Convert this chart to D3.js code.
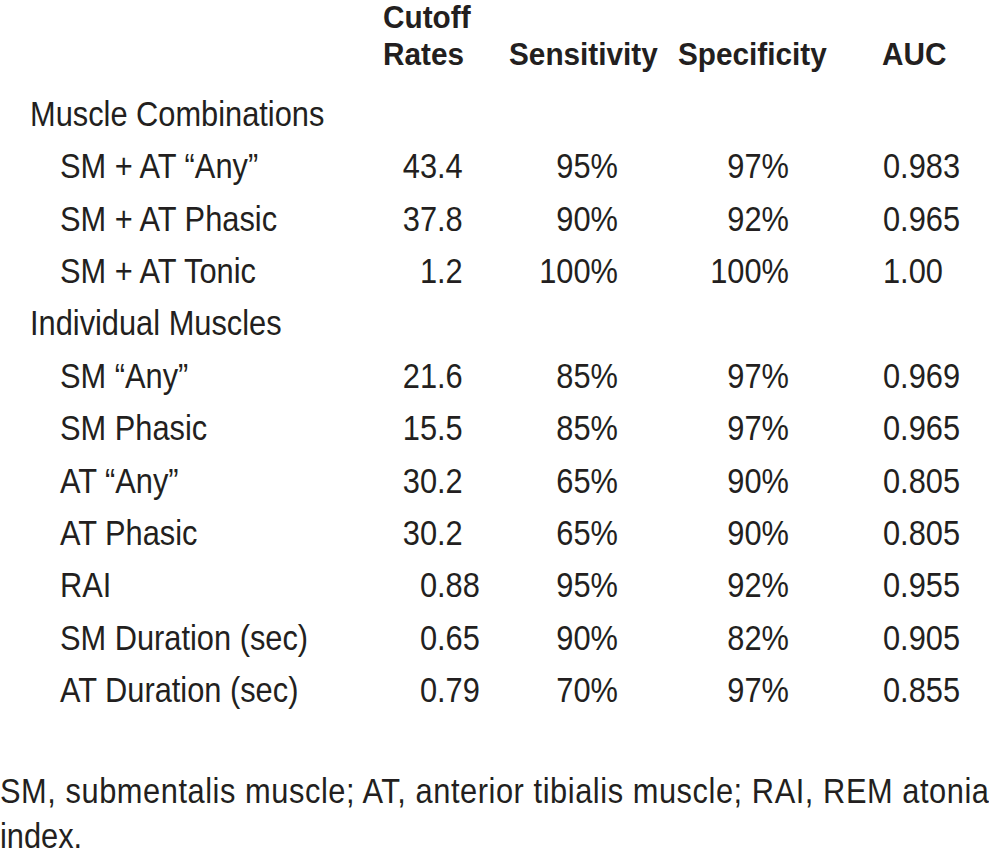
<!DOCTYPE html>
<html>
<head>
<meta charset="utf-8">
<script src="https://cdn.jsdelivr.net/npm/d3@7"></script>
<style>
  html, body { margin: 0; padding: 0; background: #fff; }
  svg { display: block; }
  text { font-family: "Liberation Sans", Arial, Helvetica, sans-serif; fill: #231f20; }
</style>
</head>
<body>
<svg id="chart" width="989" height="855"></svg>
<script>
// ---- data ----
const headerLine1 = ["Cutoff", "", "", ""];
const headerLine2 = ["Rates", "Sensitivity", "Specificity", "AUC"];
const groups = ["Muscle Combinations", "Individual Muscles"];
const groupRows = [
  ["SM + AT \u201CAny\u201D", "SM + AT Phasic", "SM + AT Tonic"],
  ["SM \u201CAny\u201D", "SM Phasic", "AT \u201CAny\u201D", "AT Phasic", "RAI", "SM Duration (sec)", "AT Duration (sec)"]
];
const cutoffs = [["43.4", "37.8", "1.2"], ["21.6", "15.5", "30.2", "30.2", "0.88", "0.65", "0.79"]];
const sensitivity = [["95%", "90%", "100%"], ["85%", "85%", "65%", "65%", "95%", "90%", "70%"]];
const specificity = [["97%", "92%", "100%"], ["97%", "97%", "90%", "90%", "92%", "82%", "97%"]];
const auc = [["0.983", "0.965", "1.00"], ["0.969", "0.965", "0.805", "0.805", "0.955", "0.905", "0.855"]];
const footnote1 = "SM, submentalis muscle; AT, anterior tibialis muscle; RAI, REM atonia";
const footnote2 = "index.";

// ---- build flat rows ----
const rows = [];
groups.forEach((g, gi) => {
  rows.push({type: "group", label: g});
  groupRows[gi].forEach((lab, i) => {
    rows.push({type: "item", label: lab, cutoff: cutoffs[gi][i],
      sens: sensitivity[gi][i], spec: specificity[gi][i], auc: auc[gi][i]});
  });
});

const svg = d3.select("#chart");
const FS = 35, SX = 0.88;      // regular text size / horizontal condensing
const FSB = 32, SXB = 0.93;    // bold header

const y = d3.scalePoint().domain(d3.range(rows.length)).range([126, 702]);

function put(sel, x, yy, str, anchor, opts = {}) {
  return sel.append("text")
    .attr("transform", `translate(${x},${yy}) scale(${opts.sx || SX},1)`)
    .attr("text-anchor", anchor)
    .style("font-size", (opts.fs || FS) + "px")
    .style("font-weight", opts.bold ? "bold" : "normal")
    .text(str);
}

// ---- header ----
const hdr = svg.append("g");
const hdrX = [383, 509, 678, 882];
headerLine1.forEach((t, i) => { if (t) put(hdr, hdrX[i], 28, t, "start", {bold: true, fs: FSB, sx: SXB}); });
headerLine2.forEach((t, i) => put(hdr, hdrX[i], 65, t, "start", {bold: true, fs: FSB, sx: SXB}));

// ---- body ----
const body = svg.append("g");
const decX = 437, sensR = 618, specR = 789, aucL = 883;
rows.forEach((r, i) => {
  const yy = y(i);
  if (r.type === "group") {
    put(body, 30, yy, r.label, "start");
  } else {
    put(body, 60, yy, r.label, "start");
    const [ip, fp] = r.cutoff.split(".");
    put(body, decX, yy, ip, "end");
    put(body, decX, yy, "." + fp, "start");
    put(body, sensR, yy, r.sens, "end");
    put(body, specR, yy, r.spec, "end");
    put(body, aucL, yy, r.auc, "start");
  }
});

// ---- footnote ----
const foot = svg.append("g");
put(foot, 0, 803, footnote1, "start")
  .attr("textLength", 989 / SX)
  .attr("lengthAdjust", "spacing");
put(foot, 0, 848, footnote2, "start");
</script>
</body>
</html>
